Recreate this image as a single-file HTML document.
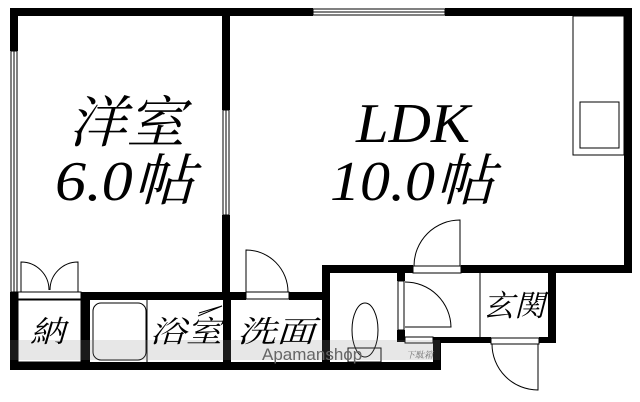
<!DOCTYPE html>
<html><head><meta charset="utf-8"><style>
html,body{margin:0;padding:0;background:#fff;}
svg{display:block}
text{font-family:"Liberation Serif","Noto Serif CJK SC",serif;font-style:italic;fill:#000}
</style></head><body>
<svg width="640" height="402" viewBox="0 0 640 402" xmlns="http://www.w3.org/2000/svg">
<rect width="640" height="402" fill="#fff"/>
<g fill="#000">
<rect x="10" y="8" width="303" height="8"/>
<rect x="445" y="8" width="187" height="8"/>
<rect x="624" y="8" width="8" height="265"/>
<rect x="10" y="8" width="8" height="43"/>
<rect x="10" y="292" width="8" height="78"/>
<rect x="222" y="8" width="8" height="102"/>
<rect x="222" y="215" width="8" height="85"/>
<rect x="223" y="292" width="8" height="70"/>
<rect x="10" y="292" width="8" height="8"/>
<rect x="81" y="292" width="165" height="8"/>
<rect x="289" y="292" width="41" height="8"/>
<rect x="81" y="292" width="9" height="70"/>
<rect x="322" y="265" width="91" height="8"/>
<rect x="461" y="265" width="171" height="8"/>
<rect x="322" y="265" width="8" height="105"/>
<rect x="10" y="362" width="431" height="8"/>
<rect x="433" y="337" width="8" height="33"/>
<rect x="433" y="337" width="58" height="6"/>
<rect x="539" y="337" width="17" height="6"/>
<rect x="548" y="272" width="8" height="71"/>
<rect x="397" y="272" width="8" height="9"/>
<rect x="397" y="330" width="8" height="12"/>
</g>
<g fill="none" stroke="#000" stroke-width="1">
<rect x="313" y="9" width="132" height="6"/>
<line x1="313" y1="12" x2="445" y2="12"/>
<rect x="11" y="51" width="6" height="241"/>
<line x1="14" y1="51" x2="14" y2="292"/>
<rect x="223" y="110" width="6" height="105"/>
<line x1="226" y1="110" x2="226" y2="215"/>
<rect x="573" y="16" width="51" height="139"/>
<rect x="580" y="102" width="39" height="46"/>
<rect x="18" y="292" width="63" height="7"/>
<path d="M21 292 V262 A28 28 0 0 1 49 290"/>
<path d="M78 292 V262 A28 28 0 0 0 50 290"/>
<rect x="18" y="300" width="63" height="62"/>
<rect x="93" y="303" width="53" height="57" rx="8"/>
<line x1="147" y1="300" x2="147" y2="362"/>
<path d="M198 316 L222 306 L199 313"/>
<rect x="224" y="300" width="6" height="62"/>
<rect x="246" y="292" width="43" height="7"/>
<path d="M246 292 V250 A42 42 0 0 1 288 292"/>
<rect x="413" y="266" width="48" height="7"/>
<path d="M460 266 V220 A46 46 0 0 0 414 266"/>
<ellipse cx="365" cy="330" rx="13" ry="27"/>
<rect x="348" y="348" width="33" height="14"/>
<rect x="398" y="281" width="6" height="49"/>
<path d="M405 282 A46 46 0 0 1 451 327 H405"/>
<rect x="405" y="337" width="28" height="6"/>
<line x1="480" y1="273" x2="480" y2="337"/>
<rect x="491" y="338" width="48" height="6"/>
<path d="M538 344 V390 A46 46 0 0 1 492 344"/>
</g>
<rect x="10" y="340" width="430" height="20" fill="#888" opacity="0.2"/>
<text x="68" y="142" font-size="56" textLength="117" lengthAdjust="spacingAndGlyphs">洋室</text>
<text x="55" y="200" font-size="56" textLength="140" lengthAdjust="spacingAndGlyphs">6.0帖</text>
<text x="356" y="142" font-size="56" textLength="114" lengthAdjust="spacingAndGlyphs">LDK</text>
<text x="330" y="200" font-size="56" textLength="165" lengthAdjust="spacingAndGlyphs">10.0帖</text>
<text x="30" y="342" font-size="30" textLength="35" lengthAdjust="spacingAndGlyphs">納</text>
<text x="150" y="342" font-size="30" textLength="72" lengthAdjust="spacingAndGlyphs">浴室</text>
<text x="237" y="342" font-size="30" textLength="78" lengthAdjust="spacingAndGlyphs">洗面</text>
<text x="483" y="316" font-size="30" textLength="62" lengthAdjust="spacingAndGlyphs">玄関</text>
<text x="262" y="360" font-size="17" style="font-family:'Liberation Sans',sans-serif;font-style:normal;fill:#666">Apamanshop</text>
<text x="406" y="358" font-size="9" style="fill:#777">下駄箱</text>
</svg>
</body></html>
